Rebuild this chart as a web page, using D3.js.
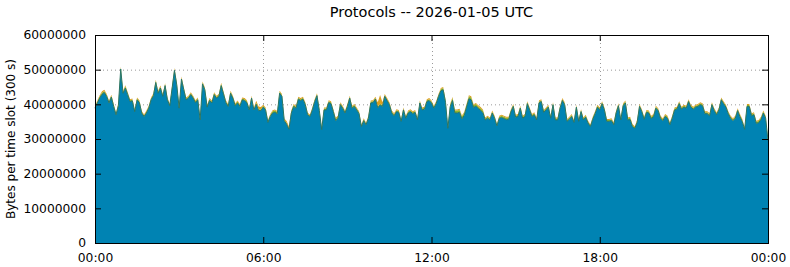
<!DOCTYPE html>
<html>
<head>
<meta charset="utf-8">
<script src="https://cdn.jsdelivr.net/npm/d3@7"></script>
<style>
    body { margin: 0; background: #fff; }
    text { font-family: "DejaVu Sans", sans-serif; font-size: 12px; fill: #000; }
    .grid line { stroke: #9a9a9a; stroke-width: 1; stroke-dasharray: 1,3; }
</style>
</head>
<body>
<div id="chart"></div>
<script>
// Protocol traffic, one value per 5 minute slot (million bytes per slot)

var titleText = "Protocols -- 2026-01-05 UTC";
var yLabelText = "Bytes per time slot (300 s)";
var slotMinutes = 5;
var xTickHours = [0, 6, 12, 18, 24];
var xTickLabels = ["00:00", "06:00", "12:00", "18:00", "00:00"];
var yTicks = [0, 10000000, 20000000, 30000000, 40000000, 50000000, 60000000];
var yMax = 60000000;

var tcp = [
    38.9,40.4,41.8,42.9,43.4,42.3,40.4,42.1,39.4,37.0,
    39.6,50.2,43.2,44.7,42.8,40.8,41.0,37.9,41.3,40.5,
    37.5,36.5,37.5,38.9,41.3,42.5,46.3,43.2,44.7,42.3,
    45.4,41.3,39.6,44.7,49.8,45.6,38.9,47.3,44.2,41.3,
    41.8,42.8,41.8,40.5,41.3,35.5,45.9,44.2,39.2,41.1,
    40.4,42.8,41.8,42.3,45.4,43.0,40.5,39.4,43.2,41.8,
    39.6,40.4,39.4,41.3,41.1,40.5,38.4,41.8,38.4,40.0,
    38.2,38.2,39.2,38.4,34.8,36.5,37.5,37.7,37.3,43.2,
    42.3,35.3,34.3,32.8,37.5,39.4,38.9,41.5,41.1,41.5,
    39.9,37.0,36.5,38.4,40.8,42.5,38.2,32.7,38.4,38.4,
    40.5,40.2,37.9,35.3,36.0,39.9,38.9,37.5,39.4,41.8,
    38.9,39.4,38.4,37.3,33.6,35.3,34.1,36.0,40.4,40.5,
    41.5,39.0,39.8,39.4,42.3,41.1,39.9,37.5,36.7,37.9,
    37.7,35.1,38.4,36.0,37.5,37.9,37.3,37.7,35.5,40.4,
    38.4,38.6,40.8,41.1,40.4,38.9,40.2,42.3,43.9,44.2,
    40.6,33.1,39.3,41.1,37.5,37.5,37.7,35.8,36.8,39.2,
    41.6,41.3,39.1,39.5,38.8,38.3,37.6,35.5,36.0,35.5,
    37.5,36.0,33.8,36.0,36.2,35.9,35.6,35.6,37.9,39.4,
    36.3,36.5,38.9,36.0,36.5,40.2,38.4,36.5,37.0,35.5,
    40.4,40.8,37.7,38.4,39.2,36.0,39.9,35.5,35.5,38.9,
    41.1,39.9,35.1,35.7,36.5,34.8,39.2,35.1,37.9,35.5,
    36.3,34.6,33.6,35.7,37.3,39.2,38.4,40.2,38.4,35.1,
    35.1,35.3,34.1,37.5,39.6,35.5,39.6,40.4,35.5,35.6,
    33.6,33.1,34.8,39.4,37.9,35.7,37.7,37.5,35.9,36.4,
    38.9,38.2,36.0,35.3,36.5,36.0,34.1,36.0,38.4,38.6,
    40.2,38.6,39.2,38.9,40.8,39.2,38.6,39.2,39.4,39.9,
    39.6,37.3,37.3,36.7,39.9,38.2,37.0,38.4,41.3,40.2,
    39.2,37.3,36.0,35.3,36.0,38.2,36.4,35.0,32.8,39.4,
    39.4,36.7,37.0,34.5,34.7,35.6,37.5,36.0,29.5
];

var udp = [
    0.4,0.4,0.5,0.5,0.4,0.4,0.4,0.4,0.4,0.3,
    0.4,0.4,0.4,0.5,0.4,0.4,0.4,0.3,0.4,0.4,
    0.3,0.3,0.4,0.4,0.4,0.4,0.5,0.4,0.4,0.4,
    0.4,0.4,0.3,0.4,0.4,0.4,0.3,0.4,0.4,0.4,
    0.4,0.4,0.4,0.4,0.4,0.3,0.4,0.4,0.4,0.4,
    0.4,0.4,0.4,0.4,0.5,0.4,0.4,0.4,0.4,0.4,
    0.4,0.4,0.4,0.4,0.4,0.4,0.3,0.4,0.3,0.4,
    0.4,0.4,0.4,0.4,0.3,0.4,0.5,0.5,0.5,0.4,
    0.4,0.3,0.3,0.3,0.4,0.4,0.4,0.4,0.4,0.4,
    0.4,0.3,0.3,0.4,0.4,0.4,0.4,0.3,0.4,0.4,
    0.4,0.4,0.4,0.5,0.5,0.4,0.4,0.4,0.4,0.4,
    0.4,0.4,0.4,0.4,0.3,0.4,0.3,0.4,0.4,0.4,
    0.4,0.4,0.4,0.4,0.4,0.4,0.4,0.4,0.4,0.4,
    0.4,0.3,0.4,0.4,0.4,0.4,0.4,0.4,0.3,0.4,
    0.4,0.4,0.4,0.4,0.4,0.4,0.4,0.4,0.5,0.5,
    0.6,0.3,0.6,0.7,0.7,0.7,0.7,0.7,0.7,0.7,
    0.7,0.7,0.6,0.6,0.6,0.6,0.6,0.4,0.4,0.4,
    0.4,0.4,0.3,0.4,0.5,0.5,0.5,0.5,0.4,0.4,
    0.4,0.4,0.4,0.4,0.4,0.4,0.4,0.4,0.4,0.4,
    0.4,0.4,0.4,0.4,0.4,0.4,0.4,0.4,0.4,0.4,
    0.4,0.4,0.4,0.4,0.4,0.3,0.4,0.4,0.4,0.4,
    0.4,0.4,0.3,0.4,0.4,0.4,0.4,0.4,0.4,0.4,
    0.4,0.4,0.4,0.4,0.4,0.4,0.4,0.4,0.4,0.5,
    0.4,0.3,0.4,0.4,0.4,0.4,0.4,0.4,0.5,0.5,
    0.4,0.4,0.4,0.4,0.4,0.4,0.4,0.4,0.4,0.4,
    0.4,0.4,0.4,0.4,0.4,0.4,0.4,0.4,0.4,0.4,
    0.4,0.4,0.4,0.4,0.4,0.4,0.4,0.4,0.4,0.4,
    0.4,0.4,0.4,0.4,0.4,0.4,0.5,0.5,0.3,0.4,
    0.4,0.4,0.4,0.5,0.5,0.5,0.4,0.4,0.3
];

var other = [
    0.3,0.3,0.3,0.4,0.4,0.3,0.3,0.3,0.3,0.3,
    0.3,0.3,0.3,0.3,0.3,0.3,0.3,0.3,0.3,0.3,
    0.3,0.3,0.3,0.3,0.3,0.3,0.3,0.3,0.3,0.3,
    0.3,0.3,0.3,0.3,0.3,0.3,0.3,0.3,0.3,0.3,
    0.3,0.3,0.3,0.3,0.3,0.3,0.3,0.3,0.3,0.3,
    0.3,0.3,0.3,0.3,0.3,0.3,0.3,0.3,0.3,0.3,
    0.3,0.3,0.3,0.3,0.3,0.3,0.3,0.3,0.3,0.6,
    0.8,0.6,0.3,0.3,0.3,0.3,0.3,0.3,0.3,0.3,
    0.3,0.3,0.6,0.5,0.3,0.3,0.3,0.3,0.3,0.3,
    0.3,0.3,0.3,0.3,0.3,0.3,0.3,0.3,0.3,0.3,
    0.3,0.3,0.3,0.3,0.3,0.3,0.3,0.3,0.3,0.3,
    0.3,0.3,0.3,0.3,0.3,0.3,0.3,0.3,0.3,0.3,
    0.3,1.2,2.5,0.8,0.3,0.3,0.3,0.3,0.3,0.3,
    0.3,0.3,0.3,0.3,0.3,0.3,0.3,0.3,0.3,0.3,
    0.3,0.3,0.3,0.3,0.3,0.3,0.3,0.3,0.3,0.3,
    0.3,0.3,0.3,0.3,0.3,0.3,0.3,0.3,0.3,0.3,
    0.3,0.3,0.3,0.3,0.3,0.3,0.3,0.3,0.3,0.3,
    0.3,0.3,0.3,0.3,0.3,0.3,0.3,0.3,0.3,0.3,
    0.3,0.3,0.3,0.3,0.3,0.3,0.3,0.3,0.3,0.3,
    0.3,0.3,0.3,0.3,0.3,0.3,0.3,0.3,0.3,0.3,
    0.3,0.3,0.3,0.3,0.3,0.3,0.3,0.3,0.3,0.3,
    0.3,0.3,0.3,0.3,0.3,0.3,0.3,0.3,0.3,0.3,
    0.3,0.3,0.3,0.3,0.3,0.3,0.3,0.3,0.3,0.3,
    0.3,0.3,0.3,0.3,0.3,0.3,0.3,0.3,0.3,0.3,
    0.3,0.3,0.3,0.3,0.3,0.3,0.3,0.3,0.3,0.3,
    0.3,0.3,0.3,0.3,0.3,0.3,0.3,0.3,0.3,0.3,
    0.3,0.3,0.3,0.3,0.3,0.3,0.3,0.3,0.3,0.3,
    0.3,0.3,0.3,0.3,0.3,0.3,0.3,0.3,0.3,0.3,
    0.3,0.3,0.3,0.3,0.3,0.3,0.3,0.3,0.3
];

var seriesKeys = ["tcp", "udp", "other"];
var seriesColors = { tcp: "#0083b3", udp: "#8db52c", other: "#dc9e1e" };

var width = 790, height = 267;
var margin = { top: 35, right: 22, bottom: 24, left: 95 };
var innerWidth = width - margin.left - margin.right;
var innerHeight = height - margin.top - margin.bottom;

var svg = d3.select("#chart").append("svg")
    .attr("width", width)
    .attr("height", height);

// rows for the stack, bytes per slot
var rows = tcp.map(function (v, i) {
    return { hour: i * slotMinutes / 60, tcp: v * 1e6, udp: udp[i] * 1e6, other: other[i] * 1e6 };
});
var stacked = d3.stack().keys(seriesKeys)(rows);

var x = d3.scaleLinear().domain([0, 24]).range([0, innerWidth]);
var y = d3.scaleLinear().domain([0, yMax]).range([innerHeight, 0]);

var g = svg.append("g").attr("transform", "translate(" + margin.left + "," + margin.top + ")");

// grid behind the data
g.append("g").attr("class", "grid")
    .selectAll("line.h")
    .data(yTicks.filter(function (d) { return d > 0 && d < yMax; }))
    .enter().append("line")
    .attr("x1", 0).attr("x2", innerWidth)
    .attr("y1", function (d) { return y(d) + 0.5; })
    .attr("y2", function (d) { return y(d) + 0.5; });
g.select(".grid")
    .selectAll("line.v")
    .data(xTickHours.filter(function (d) { return d > 0 && d < 24; }))
    .enter().append("line")
    .attr("x1", function (d) { return Math.round(x(d)) + 0.5; })
    .attr("x2", function (d) { return Math.round(x(d)) + 0.5; })
    .attr("y1", 0).attr("y2", innerHeight);

var area = d3.area()
    .x(function (d) { return x(d.data.hour); })
    .y0(function (d) { return y(d[0]); })
    .y1(function (d) { return y(d[1]); });

g.selectAll(".layer")
    .data(stacked)
    .enter().append("path")
    .attr("class", "layer")
    .attr("fill", function (d) { return seriesColors[d.key]; })
    .attr("d", area);

// dark edge on top of the tcp layer
var tcpEdge = d3.line()
    .x(function (d) { return x(d.data.hour); })
    .y(function (d) { return y(d[1]); });
g.append("path")
    .attr("fill", "none")
    .attr("stroke", "#2a7565")
    .attr("stroke-width", 1)
    .attr("d", tcpEdge(stacked[0]));

// axes with inward ticks, mirrored
var fmtX = function (d) { return xTickLabels[xTickHours.indexOf(d)]; };
var fmtY = function (d) { return String(d); };

g.append("g").attr("class", "axis")
    .attr("transform", "translate(0," + innerHeight + ")")
    .call(d3.axisBottom(x).tickValues(xTickHours).tickFormat(fmtX).tickSizeInner(-6).tickSizeOuter(0).tickPadding(10));
g.append("g").attr("class", "axis mirror")
    .call(d3.axisTop(x).tickValues(xTickHours).tickFormat("").tickSizeInner(-6).tickSizeOuter(0));
g.append("g").attr("class", "axis")
    .call(d3.axisLeft(y).tickValues(yTicks).tickFormat(fmtY).tickSizeInner(-6).tickSizeOuter(0).tickPadding(9));
g.append("g").attr("class", "axis mirror")
    .attr("transform", "translate(" + innerWidth + ",0)")
    .call(d3.axisRight(y).tickValues(yTicks).tickFormat("").tickSizeInner(-6).tickSizeOuter(0));

g.selectAll(".axis .domain").remove();
g.selectAll(".mirror text").remove();
g.selectAll(".axis line").attr("stroke", "#000");
g.selectAll(".axis text")
    .style("font-family", "DejaVu Sans, sans-serif")
    .style("font-size", "12.3px")
    .attr("fill", "#000");

// plot border
g.append("rect")
    .attr("x", 0.5).attr("y", 0.5)
    .attr("width", innerWidth).attr("height", innerHeight)
    .attr("fill", "none")
    .attr("stroke", "#000")
    .attr("stroke-width", 1);

// title and axis label
svg.append("text")
    .attr("x", margin.left + innerWidth / 2)
    .attr("y", 17)
    .attr("text-anchor", "middle")
    .style("font-size", "14.5px")
    .text(titleText);

svg.append("text")
    .attr("transform", "translate(15," + (margin.top + innerHeight / 2) + ") rotate(-90)")
    .attr("text-anchor", "middle")
    .text(yLabelText);
</script>
</body>
</html>
